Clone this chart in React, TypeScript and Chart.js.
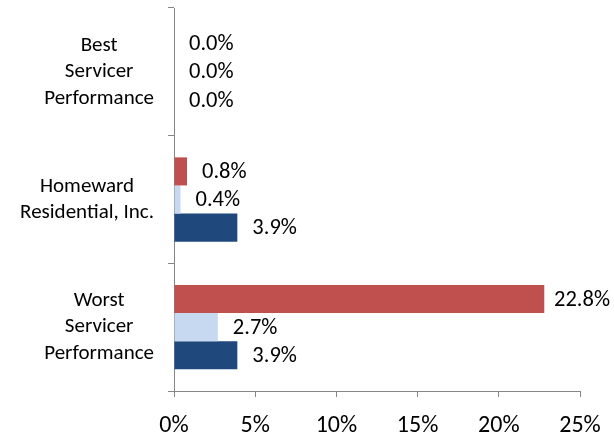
import React, { useEffect, useRef } from "react";
import { Chart, registerables } from "chart.js";

Chart.register(...registerables);

const categories: string[][] = [
  ["Best", "Servicer", "Performance"],
  ["Homeward", "Residential, Inc."],
  ["Worst", "Servicer", "Performance"],
];
const redSeries = [0.0, 0.8, 22.8];
const lightBlueSeries = [0.0, 0.4, 2.7];
const darkBlueSeries = [0.0, 3.9, 3.9];
const xTicks = [0, 5, 10, 15, 20, 25];

const FONT = "Carlito, Lato, 'Open Sans', sans-serif";
const AXIS_GRAY = "#868686";

const valueLabels = {
  id: "valueLabels",
  afterDatasetsDraw(chart: any) {
    const ctx = chart.ctx;
    ctx.save();
    ctx.font = `22.5px ${FONT}`;
    ctx.fillStyle = "#000";
    ctx.textBaseline = "middle";
    ctx.textAlign = "left";
    chart.data.datasets.forEach((ds: any, di: number) => {
      const meta = chart.getDatasetMeta(di);
      meta.data.forEach((el: any, i: number) => {
        const v = ds.data[i] as number;
        const txt = v.toFixed(1) + "%";
        const w = ctx.measureText(txt).width;
        let x = el.x + 15;
        if (x + w > chart.width - 4) x = Math.max(el.x + 6, chart.width - 4 - w);
        ctx.fillText(txt, x, el.y + 1);
      });
    });
    ctx.restore();
  },
};

// Category labels: each block right-aligned, lines centred within the block (Excel style)
const categoryLabels = {
  id: "categoryLabels",
  afterDraw(chart: any) {
    const ctx = chart.ctx;
    const yScale = chart.scales.y;
    const lineH = 26.5;
    const rightEdge = yScale.right - 20;
    ctx.save();
    ctx.font = `21px ${FONT}`;
    ctx.fillStyle = "#000";
    ctx.textBaseline = "middle";
    ctx.textAlign = "center";
    (chart.data.labels as string[][]).forEach((lines, i) => {
      const yc = yScale.getPixelForValue(i);
      const widest = Math.max(...lines.map((l) => ctx.measureText(l).width));
      const xc = rightEdge - widest / 2;
      const y0 = yc - ((lines.length - 1) * lineH) / 2;
      lines.forEach((l, k) => ctx.fillText(l, xc, y0 + k * lineH));
    });
    ctx.restore();
  },
};

export default function App() {
  const ref = useRef<HTMLCanvasElement>(null);
  useEffect(() => {
    document.body.style.margin = "0";
    const chart = new Chart(ref.current!, {
      type: "bar",
      data: {
        labels: categories,
        datasets: [
          { label: "Red", data: redSeries, backgroundColor: "#C0504D" },
          { label: "Light", data: lightBlueSeries, backgroundColor: "#C6D9F1" },
          { label: "Dark", data: darkBlueSeries, backgroundColor: "#1F497D" },
        ],
      },
      options: {
        indexAxis: "y",
        animation: false,
        responsive: false,
        maintainAspectRatio: false,
        datasets: { bar: { categoryPercentage: 0.66, barPercentage: 1 } },
        layout: { padding: { top: 8, right: 34, left: 0, bottom: 0 } },
        plugins: { legend: { display: false }, tooltip: { enabled: false } },
        scales: {
          x: {
            type: "linear",
            min: 0,
            max: 25,
            afterBuildTicks: (axis: any) => {
              axis.ticks = xTicks.map((v) => ({ value: v }));
            },
            afterFit: (axis: any) => {
              axis.height = 44;
              axis.paddingLeft = 0;
              axis.paddingRight = 0;
            },
            border: { display: true, color: AXIS_GRAY, width: 1 },
            grid: {
              drawOnChartArea: false,
              drawTicks: true,
              tickLength: 6,
              color: AXIS_GRAY,
            },
            ticks: {
              callback: (v: any) => v + "%",
              color: "#000",
              font: { family: FONT, size: 24 },
              padding: 15,
              maxRotation: 0,
            },
          },
          y: {
            type: "category",
            afterFit: (axis: any) => {
              axis.width = 174;
              axis.paddingTop = 0;
              axis.paddingBottom = 0;
            },
            border: { display: true, color: AXIS_GRAY, width: 1 },
            grid: {
              offset: true,
              drawOnChartArea: false,
              drawTicks: true,
              tickLength: 6,
              color: AXIS_GRAY,
            },
            ticks: {
              color: "rgba(0,0,0,0)",
              font: { family: FONT, size: 20, lineHeight: 1.3 },
              padding: 8,
            },
          },
        },
      },
      plugins: [valueLabels, categoryLabels],
    });
    return () => chart.destroy();
  }, []);
  return (
    <div style={{ width: 614, height: 435 }}>
      <canvas ref={ref} width={614} height={435} style={{ display: "block" }} />
    </div>
  );
}
